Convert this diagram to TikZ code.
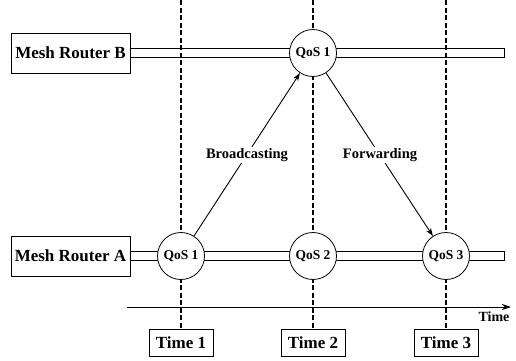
\documentclass[tikz,border=0pt]{standalone}
\usepackage{fontspec}
\setmainfont{Liberation Serif}
\usetikzlibrary{arrows.meta}
\begin{document}
\begin{tikzpicture}[x=1pt,y=-1pt,
  lbox/.style={draw,line width=0.7pt,fill=white,minimum width=119pt,minimum height=40pt,inner sep=0pt,font=\fontsize{17}{19}\selectfont\bfseries},
  tbox/.style={draw,line width=0.7pt,fill=white,minimum width=64pt,minimum height=27pt,inner sep=0pt,font=\fontsize{17}{19}\selectfont\bfseries},
  qos/.style={draw,circle,line width=0.8pt,fill=white,minimum size=47pt,inner sep=0pt,font=\fontsize{13.5}{15}\selectfont\bfseries},
  rail/.style={draw,line width=0.8pt,fill=white},
  tline/.style={line width=1.1pt,dash pattern=on 5pt off 2.5pt},
  arr/.style={line width=0.9pt,-{Stealth[length=8pt,width=5.5pt]}},
  lab/.style={fill=white,inner sep=1.5pt,font=\fontsize{14.5}{16}\selectfont\bfseries}]
\useasboundingbox (0,0) rectangle (516,360);
% rails
\draw[rail] (130,48) rectangle (504,57);
\draw[rail] (130,251) rectangle (504,260);
% time lines
\coordinate (t1top) at (181,0);
\coordinate (t2top) at (313,0);
\coordinate (t3top) at (446,0);
\node[tbox] (time1) at (181,342.5) {Time 1};
\node[tbox] (time2) at (313,342.5) {Time 2};
\node[tbox] (time3) at (446,342.5) {Time 3};
\draw[tline] (t1top) -- (time1.north);
\draw[tline] (t2top) -- (time2.north);
\draw[tline] (t3top) -- (time3.north);
% boxes
\node[lbox] (rb) at (70.5,53) {Mesh Router B};
\node[lbox] (ra) at (70.5,256) {Mesh Router A};
% circles
\node[qos] (qb1) at (313,53) {QoS 1};
\node[qos] (qa1) at (181,256) {QoS 1};
\node[qos] (qa2) at (313,256) {QoS 2};
\node[qos] (qa3) at (446,256) {QoS 3};
% time axis
\coordinate (ax0) at (127,307);
\coordinate (ax1) at (511,307);
\draw[line width=1pt,-{Stealth[length=9pt,width=6pt]}] (ax0) -- (ax1);
\node[font=\fontsize{14}{16}\selectfont\bfseries] (tl) at (494,317) {Time};
% arrows
\draw[arr] (qa1) -- (qb1);
\draw[arr] (qb1) -- (qa3);
\node[lab] (bc) at (247,155) {Broadcasting};
\node[lab] (fw) at (380,155) {Forwarding};
\end{tikzpicture}
\end{document}
